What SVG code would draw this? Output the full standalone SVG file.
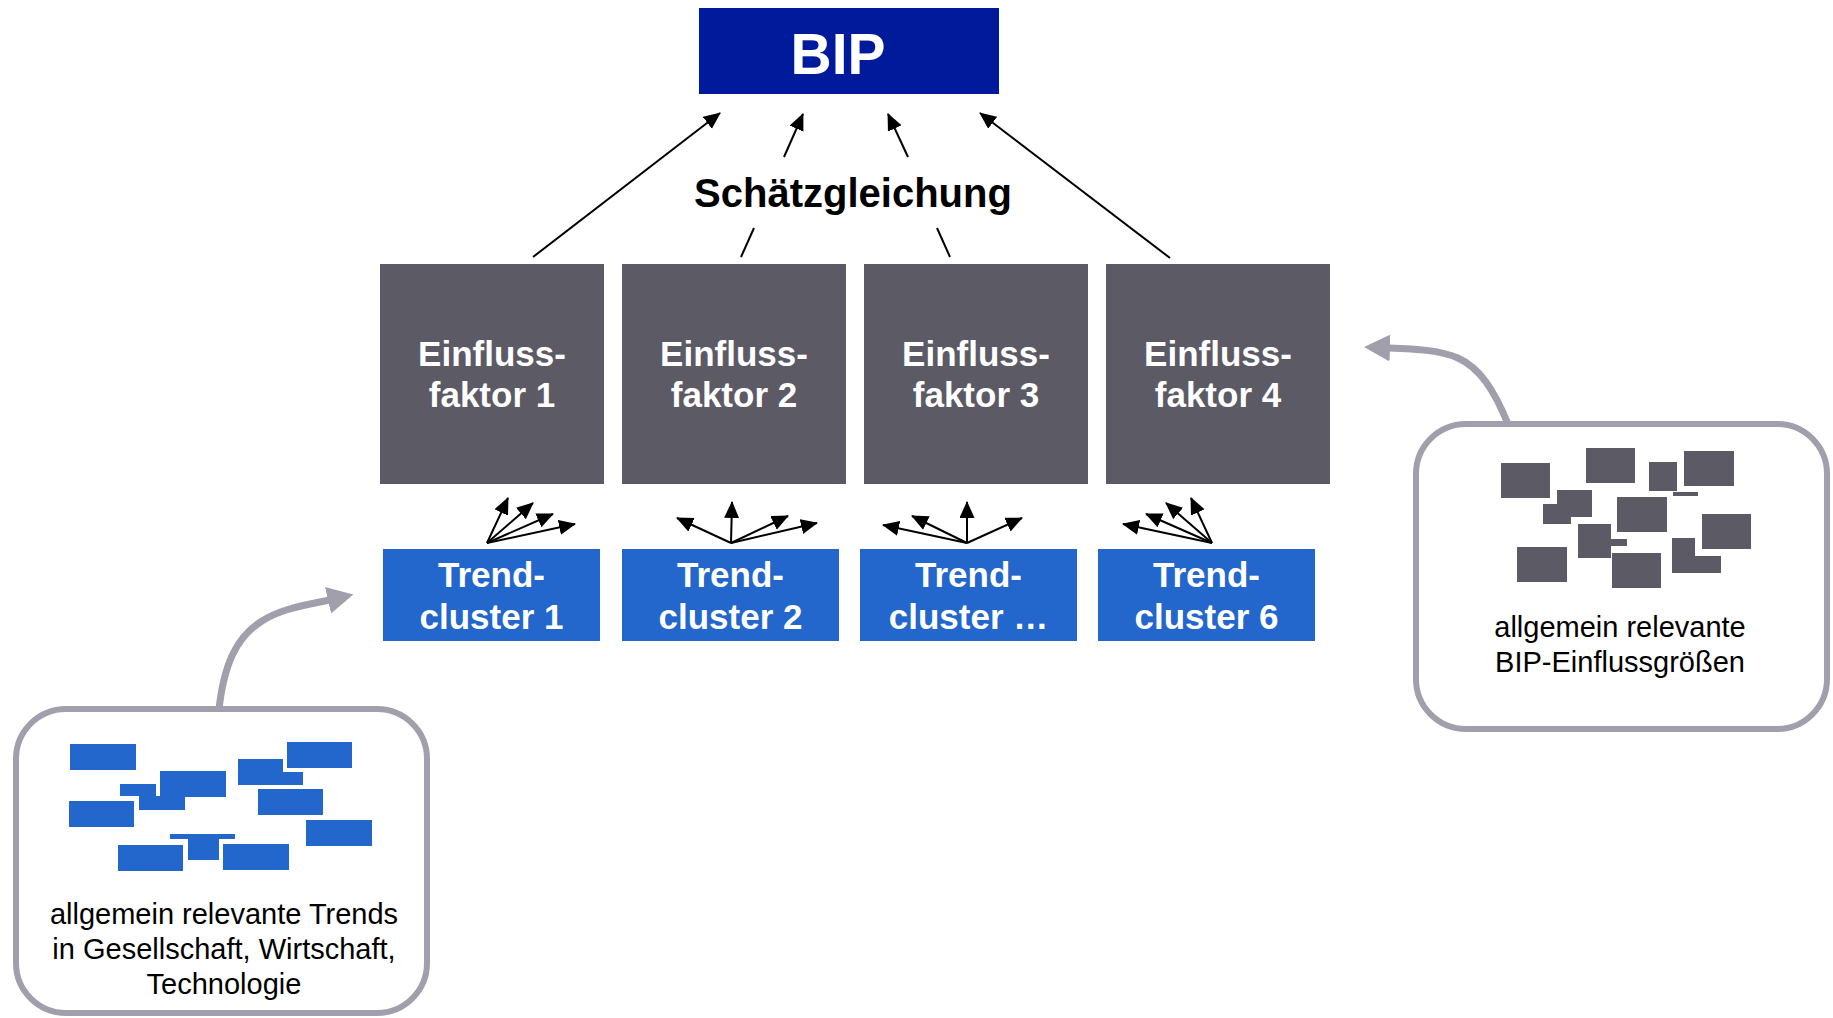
<svg xmlns="http://www.w3.org/2000/svg" width="1833" height="1018" viewBox="0 0 1833 1018">
  <style>
    .lbl { font-family: "Liberation Sans", Arial, sans-serif; font-weight: bold; fill: #ffffff; text-anchor: middle; }
    .cap { font-family: "Liberation Sans", Arial, sans-serif; font-size: 29px; fill: #000000; text-anchor: middle; }
    .factor { fill: #5b5a65; }
    .cluster { fill: #2366cc; }
    .link { stroke: #000000; stroke-width: 2; fill: none; }
    .arrow { stroke: #000000; stroke-width: 2; fill: none; marker-end: url(#head); }
    .feed { stroke: #a09fab; stroke-width: 7; fill: none; marker-end: url(#headGray); }
    .frame { fill: #ffffff; stroke: #a09fab; stroke-width: 6; }
    .chipB { fill: #2366cc; }
    .chipG { fill: #5b5a65; }
  </style>
  <defs>
    <marker id="head" markerUnits="userSpaceOnUse" markerWidth="18" markerHeight="16" refX="16" refY="7.5" orient="auto">
      <path d="M0,0 L17,7.5 L0,15 z" fill="#000000"/>
    </marker>
    <marker id="headGray" markerUnits="userSpaceOnUse" markerWidth="28" markerHeight="28" refX="1" refY="13.5" orient="auto">
      <path d="M0,0 L26,13.5 L0,27 z" fill="#a09fab"/>
    </marker>
  </defs>

  <rect width="1833" height="1018" fill="#ffffff"/>

  <!-- connectors -->
  <g id="connectors">
    <!-- factors to BIP via estimation equation -->
    <line class="arrow" x1="533" y1="257" x2="720" y2="113"/>
    <line class="arrow" x1="784" y1="157" x2="803" y2="114"/>
    <line class="arrow" x1="908" y1="157" x2="888" y2="114"/>
    <line class="arrow" x1="1170" y1="258" x2="980" y2="113"/>
    <line class="link" x1="754" y1="228" x2="741" y2="257"/>
    <line class="link" x1="937" y1="228" x2="950" y2="257"/>

    <!-- fan: trend cluster 1 -->
    <line class="arrow" x1="487" y1="543" x2="508" y2="498"/>
    <line class="arrow" x1="487" y1="543" x2="533" y2="503"/>
    <line class="arrow" x1="487" y1="543" x2="553" y2="514"/>
    <line class="arrow" x1="487" y1="543" x2="575" y2="524"/>
    <!-- fan: trend cluster 2 -->
    <line class="arrow" x1="731" y1="543" x2="677" y2="518"/>
    <line class="arrow" x1="731" y1="543" x2="732" y2="502"/>
    <line class="arrow" x1="731" y1="543" x2="788" y2="516"/>
    <line class="arrow" x1="731" y1="543" x2="817" y2="523"/>
    <!-- fan: trend cluster ... -->
    <line class="arrow" x1="967" y1="543" x2="883" y2="525"/>
    <line class="arrow" x1="967" y1="543" x2="912" y2="516"/>
    <line class="arrow" x1="967" y1="543" x2="967" y2="502"/>
    <line class="arrow" x1="967" y1="543" x2="1022" y2="518"/>
    <!-- fan: trend cluster 6 -->
    <line class="arrow" x1="1212" y1="543" x2="1191" y2="498"/>
    <line class="arrow" x1="1212" y1="543" x2="1166" y2="503"/>
    <line class="arrow" x1="1212" y1="543" x2="1146" y2="514"/>
    <line class="arrow" x1="1212" y1="543" x2="1123" y2="524"/>

    <!-- feeds from the source panels -->
    <path class="feed" d="M219,709 C224,665 236,637 262,621 C283,608 303,606 329,600"/>
    <path class="feed" d="M1508,424 C1494,390 1480,368 1458,358 C1440,350 1415,349 1389,348"/>
  </g>

  <!-- top node -->
  <g id="bip">
    <rect x="699" y="8" width="300" height="86" fill="#001a9c"/>
    <text class="lbl" x="838" y="74" font-size="57">BIP</text>
  </g>

  <g id="schaetzgleichung">
    <text x="853" y="207" font-family="Liberation Sans, Arial, sans-serif" font-weight="bold" font-size="40" text-anchor="middle" fill="#000000">Schätzgleichung</text>
  </g>

  <!-- influence factors -->
  <g id="faktor1">
    <rect class="factor" x="380" y="264" width="224" height="220"/>
    <text class="lbl" font-size="35" x="492" y="366">Einfluss-</text>
    <text class="lbl" font-size="35" x="492" y="407">faktor 1</text>
  </g>
  <g id="faktor2">
    <rect class="factor" x="622" y="264" width="224" height="220"/>
    <text class="lbl" font-size="35" x="734" y="366">Einfluss-</text>
    <text class="lbl" font-size="35" x="734" y="407">faktor 2</text>
  </g>
  <g id="faktor3">
    <rect class="factor" x="864" y="264" width="224" height="220"/>
    <text class="lbl" font-size="35" x="976" y="366">Einfluss-</text>
    <text class="lbl" font-size="35" x="976" y="407">faktor 3</text>
  </g>
  <g id="faktor4">
    <rect class="factor" x="1106" y="264" width="224" height="220"/>
    <text class="lbl" font-size="35" x="1218" y="366">Einfluss-</text>
    <text class="lbl" font-size="35" x="1218" y="407">faktor 4</text>
  </g>

  <!-- trend clusters -->
  <g id="cluster1">
    <rect class="cluster" x="383" y="549" width="217" height="92"/>
    <text class="lbl" font-size="35" x="491.5" y="587">Trend-</text>
    <text class="lbl" font-size="35" x="491.5" y="629">cluster 1</text>
  </g>
  <g id="cluster2">
    <rect class="cluster" x="622" y="549" width="217" height="92"/>
    <text class="lbl" font-size="35" x="730.5" y="587">Trend-</text>
    <text class="lbl" font-size="35" x="730.5" y="629">cluster 2</text>
  </g>
  <g id="clusterN">
    <rect class="cluster" x="860" y="549" width="217" height="92"/>
    <text class="lbl" font-size="35" x="968.5" y="587">Trend-</text>
    <text class="lbl" font-size="35" x="968.5" y="629">cluster …</text>
  </g>
  <g id="cluster6">
    <rect class="cluster" x="1098" y="549" width="217" height="92"/>
    <text class="lbl" font-size="35" x="1206.5" y="587">Trend-</text>
    <text class="lbl" font-size="35" x="1206.5" y="629">cluster 6</text>
  </g>

  <!-- source panel: general trends -->
  <g id="trends-panel">
    <rect class="frame" x="16" y="709" width="411" height="304" rx="50" ry="50"/>
    <rect class="chipB" x="70" y="744" width="66" height="26"/>
    <rect class="chipB" x="160" y="771" width="66" height="26"/>
    <rect class="chipB" x="120" y="784" width="36" height="12"/>
    <rect class="chipB" x="139" y="796" width="46" height="14"/>
    <rect class="chipB" x="69" y="801" width="65" height="26"/>
    <rect class="chipB" x="238" y="759" width="45" height="26"/>
    <rect class="chipB" x="282" y="772" width="21" height="13"/>
    <rect class="chipB" x="287" y="742" width="65" height="26"/>
    <rect class="chipB" x="258" y="789" width="65" height="26"/>
    <rect class="chipB" x="306" y="820" width="66" height="26"/>
    <rect class="chipB" x="118" y="845" width="65" height="26"/>
    <rect class="chipB" x="170" y="834" width="65" height="5"/>
    <rect class="chipB" x="188" y="839" width="31" height="21"/>
    <rect class="chipB" x="223" y="844" width="66" height="26"/>
    <text class="cap" x="224" y="924">allgemein relevante Trends</text>
    <text class="cap" x="224" y="959">in Gesellschaft, Wirtschaft,</text>
    <text class="cap" x="224" y="994">Technologie</text>
  </g>

  <!-- source panel: general BIP influences -->
  <g id="einfluss-panel">
    <rect class="frame" x="1416" y="424" width="411" height="305" rx="50" ry="50"/>
    <rect class="chipG" x="1501" y="463" width="49" height="35"/>
    <rect class="chipG" x="1586" y="448" width="49" height="35"/>
    <rect class="chipG" x="1649" y="462" width="28" height="29"/>
    <rect class="chipG" x="1673" y="492" width="25" height="4"/>
    <rect class="chipG" x="1684" y="451" width="50" height="35"/>
    <rect class="chipG" x="1557" y="490" width="35" height="27"/>
    <rect class="chipG" x="1543" y="504" width="28" height="20"/>
    <rect class="chipG" x="1617" y="497" width="50" height="35"/>
    <rect class="chipG" x="1578" y="524" width="33" height="34"/>
    <rect class="chipG" x="1605" y="539" width="22" height="7"/>
    <rect class="chipG" x="1517" y="547" width="50" height="35"/>
    <rect class="chipG" x="1612" y="553" width="49" height="35"/>
    <rect class="chipG" x="1672" y="538" width="23" height="35"/>
    <rect class="chipG" x="1695" y="556" width="26" height="17"/>
    <rect class="chipG" x="1702" y="514" width="49" height="35"/>
    <text class="cap" x="1620" y="637">allgemein relevante</text>
    <text class="cap" x="1620" y="672">BIP-Einflussgrößen</text>
  </g>
</svg>
